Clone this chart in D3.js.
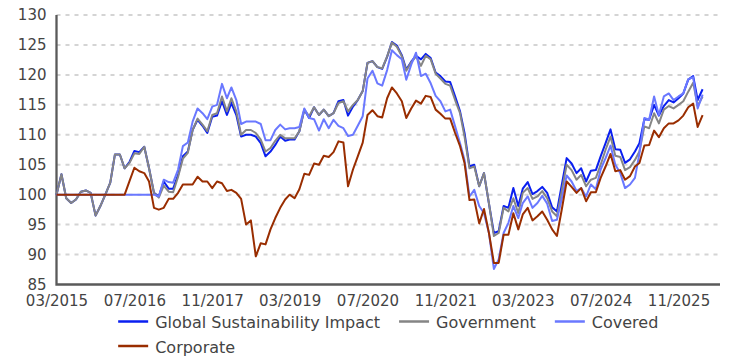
<!DOCTYPE html>
<html>
<head>
<meta charset="utf-8">
<script src="https://cdn.jsdelivr.net/npm/d3@7"></script>
<style>
  html, body { margin: 0; padding: 0; background: #fff; }
  svg { display: block; font-family: "DejaVu Sans", sans-serif; }
</style>
</head>
<body>
<svg id="chart" width="729" height="360"></svg>
<script>
// Monthly index levels, starting 03/2015 (base = 100)
const startMonth = "03/2015";

const globalImpact = [
  100, 103.4, 99.4, 98.6, 99.2, 100.5, 100.7, 100.3, 96.5, 98.1,
  100, 102, 106.7, 106.7, 104.4, 105.5, 107.3, 107.1, 108, 104.4,
  100.3, 99.7, 102.2, 101, 101, 103.3, 106.4, 107.2, 110.8, 112.5,
  111.5, 110.3, 113, 113.2, 115.6, 113.3, 115.3, 113.3, 109.7, 110,
  110, 109.7, 108.6, 106.4, 107.2, 108.3, 109.7, 109, 109.2, 109.2,
  110.6, 114.2, 112.8, 114.6, 113.3, 114.2, 113.1, 113.6, 115.6, 115.8,
  113.2, 114.7, 115.8, 117.3, 122, 122.3, 121.3, 121, 123, 125.5,
  124.9, 123.3, 120.9, 122.2, 123.2, 122.6, 123.5, 122.8, 120.4, 119.8,
  118.9, 118.8, 116.4, 113.9, 110.3, 104.7, 105, 101.4, 103.6, 98.5,
  93.6, 93.9, 98.1, 97.8, 101.1, 98.1, 101, 102.1, 100.1, 100.6,
  101.3, 100.3, 97.9, 97.2, 101.7, 106.1, 105.2, 103.6, 104.4, 102.2,
  104, 104.1, 106.4, 108.6, 110.9, 107.6, 107.5, 105.3, 105.9, 107.2,
  108.6, 112.6, 112.5, 115, 113.2, 114.8, 115.8, 115.4, 116.1, 116.9,
  119.2, 119.8, 115.8, 117.6
];

const government = [
  100, 103.4, 99.4, 98.6, 99.2, 100.5, 100.7, 100.3, 96.5, 98.1,
  100, 102, 106.7, 106.7, 104.4, 105.3, 106.9, 106.8, 108, 104.4,
  100.3, 99.5, 101.5, 100.5, 100.4, 103, 106, 107, 110.8, 112.7,
  111.7, 110.6, 113.3, 113.6, 116.4, 113.9, 116.1, 113.9, 110, 110.8,
  110.8, 110.3, 109.2, 107.2, 107.8, 109, 110, 109.4, 109.4, 109.4,
  110.6, 114.2, 113.1, 114.6, 113.3, 114.2, 113.1, 113.6, 115.3, 115.6,
  113.9, 115, 115.8, 117.3, 122, 122.3, 121.3, 121.1, 123.1, 125.4,
  124.7, 123.1, 120.7, 122.1, 123.1, 121.5, 123.2, 122.6, 120.2, 119.4,
  118.5, 118.2, 115.8, 113.6, 109.7, 104.4, 104.7, 101.4, 103.6, 98.6,
  93.1, 93.6, 97.8, 97.2, 99.4, 96.9, 100.3, 101.1, 99.3, 99.7,
  100.6, 99.4, 97.2, 96.4, 100.7, 105, 104.1, 102.5, 103.3, 101.4,
  102.5, 102.8, 105, 107.5, 109.7, 106.5, 106.3, 104.1, 104.6, 105.8,
  107.2, 111.4, 111.1, 113.6, 111.9, 114.2, 114.8, 114.4, 115, 115.6,
  117.2, 118.7, 114.8, 116.4
];

const covered = [
  100, 100, 100, 100, 100, 100, 100, 100, 100, 100,
  100, 100, 100, 100, 100, 100, 100, 100, 100, 100,
  100, 99.7, 102.5, 102.1, 102, 104.2, 108.1, 108.7, 112.2, 114.4,
  113.6, 112.6, 114.7, 115, 118.5, 116.1, 117.9, 115.8, 111.8, 112.2,
  112.2, 112.2, 111.8, 109.1, 109.1, 110.8, 111.7, 110.9, 111.1, 111.1,
  111.3, 114.4, 112.8, 112.6, 110.7, 112.6, 111.1, 112.5, 111.5, 111.1,
  109.8, 110, 111.5, 113.1, 119.4, 120.7, 118.6, 118.2, 120.8, 124.1,
  123.3, 122.6, 119.2, 121.7, 123.7, 119.8, 120.2, 118.6, 116.5, 115.6,
  113.9, 114.2, 111.4, 108.6, 105.8, 99.7, 100.8, 98.1, 96.9, 93.6,
  87.6, 89.2, 93.6, 95.3, 98.1, 96.1, 98.6, 99.7, 97.8, 98.6,
  99.8, 98.5, 95.6, 95.8, 99.4, 103.2, 102.2, 100.6, 101.1, 99.7,
  101.7, 100.9, 104.2, 106.1, 108.2, 105, 103.6, 101.1, 101.7, 102.8,
  106.9, 112.8, 112.5, 116.4, 113.3, 116.4, 116.9, 115.8, 116.4, 116.9,
  119.3, 119.6, 114.4, 116.7
];

const corporate = [
  100, 100, 100, 100, 100, 100, 100, 100, 100, 100,
  100, 100, 100, 100, 100, 102.3, 104.5, 103.9, 103.6, 102.2,
  97.8, 97.5, 97.8, 99.3, 99.3, 100.3, 101.7, 101.7, 101.7, 103,
  102.2, 102.2, 101.1, 102.2, 101.9, 100.6, 100.8, 100.3, 99.3, 95,
  95.7, 89.7, 91.9, 91.7, 94.2, 96.1, 97.8, 99.2, 100, 99.4,
  100.9, 103.5, 103.3, 105.2, 105, 106.5, 106.3, 107.1, 108.9, 108.7,
  101.4, 104.2, 106.4, 108.7, 113.3, 114.1, 113.1, 112.9, 116.1, 117.9,
  116.9, 115.6, 112.8, 114.4, 115.7, 115.2, 116.5, 116.3, 114.2, 113.5,
  112.7, 112.7, 110.3, 108.1, 105.3, 99.1, 99.2, 95.2, 97.6, 93.6,
  88.6, 88.6, 93.3, 93.3, 96.9, 94.2, 96.7, 97.8, 95.7, 96.4,
  97.2, 95.8, 94.2, 93.1, 97.6, 102.2, 101.3, 100.3, 101.1, 98.9,
  100.4, 100.4, 102.8, 104.7, 106.8, 103.9, 104.1, 102.5, 103.1, 104.7,
  105.3, 108.2, 108.3, 110.7, 109.6, 111.1, 111.9, 111.9, 112.4, 113.2,
  114.6, 115.2, 111.3, 113.3
];

const xTickLabels = ["03/2015", "07/2016", "11/2017", "03/2019", "07/2020",
                     "11/2021", "03/2023", "07/2024", "11/2025"];
const yTickValues = [85, 90, 95, 100, 105, 110, 115, 120, 125, 130];

const seriesNames = ["Global Sustainability Impact", "Government", "Covered", "Corporate"];
const seriesColors = ["#0a1ff0", "#858585", "#6a78ff", "#992d00"];
const seriesValues = [globalImpact, government, covered, corporate];

// ---------------------------------------------------------------------------
const parseMonth = d3.timeParse("%m/%Y");
const start = parseMonth(startMonth);
const dates = d3.range(globalImpact.length).map(i => d3.timeMonth.offset(start, i));

const svg = d3.select("#chart");
const plotLeft = 56.5, plotRight = 720, plotTop = 15, plotBottom = 284.5;

const x = d3.scaleTime()
  .domain([start, new Date(2026, 6, 19)])
  .range([plotLeft, plotRight]);

const y = d3.scaleLinear()
  .domain([85, 130])
  .range([plotBottom, plotTop]);

// horizontal dashed grid
svg.append("g")
  .selectAll("line")
  .data(yTickValues.filter(v => v > 85))
  .join("line")
  .attr("x1", plotLeft)
  .attr("x2", plotRight)
  .attr("y1", d => y(d))
  .attr("y2", d => y(d))
  .attr("stroke", "#d4d4d4")
  .attr("stroke-width", 2)
  .attr("stroke-dasharray", "4,5");

// y axis
const yAxis = svg.append("g")
  .attr("transform", `translate(${plotLeft},0)`)
  .call(d3.axisLeft(y).tickValues(yTickValues).tickSize(0).tickPadding(10).tickFormat(d3.format("d")));
yAxis.select(".domain").remove();
yAxis.selectAll("text")
  .attr("font-size", 15)
  .attr("font-family", "DejaVu Sans, sans-serif")
  .attr("fill", "#444");

// x axis
const xAxis = svg.append("g")
  .attr("transform", `translate(0,${plotBottom})`)
  .call(d3.axisBottom(x)
    .tickValues(xTickLabels.map(parseMonth))
    .tickSize(0)
    .tickPadding(11)
    .tickFormat(d3.timeFormat("%m/%Y")));
xAxis.select(".domain").remove();
xAxis.selectAll("text")
  .attr("font-size", 15)
  .attr("font-family", "DejaVu Sans, sans-serif")
  .attr("fill", "#444");

// axis lines
svg.append("path")
  .attr("d", `M${plotLeft},${plotTop}V${plotBottom}H${plotRight}`)
  .attr("fill", "none")
  .attr("stroke", "#5a5a5a")
  .attr("stroke-width", 2.3);

// series lines
const line = d3.line()
  .x((d, i) => x(dates[i]))
  .y(d => y(d));

svg.append("g")
  .selectAll("path")
  .data(seriesValues)
  .join("path")
  .attr("d", d => line(d))
  .attr("fill", "none")
  .attr("stroke", (d, i) => seriesColors[i])
  .attr("stroke-width", 2)
  .attr("stroke-linejoin", "round");

// legend
const legend = svg.append("g").attr("font-size", 16).attr("fill", "#444");
const items = legend.selectAll("g")
  .data(seriesNames)
  .join("g");
items.append("line")
  .attr("x1", 0).attr("x2", 30)
  .attr("y1", -6.5).attr("y2", -6.5)
  .attr("stroke", (d, i) => seriesColors[i])
  .attr("stroke-width", 2.5);
items.append("text")
  .attr("x", 37)
  .text(d => d);

const widths = [];
items.each(function () {
  widths.push(37 + d3.select(this).select("text").node().getComputedTextLength());
});
const gap = 19;
const rowMax = plotRight - plotLeft;
const rows = [[]];
let rowW = 0;
widths.forEach((w, i) => {
  const add = (rows[rows.length - 1].length ? gap : 0) + w;
  if (rowW + add > rowMax - 60 && rows[rows.length - 1].length) {
    rows.push([i]);
    rowW = w;
  } else {
    rows[rows.length - 1].push(i);
    rowW += add;
  }
});
const firstW = rows[0].reduce((s, i, k) => s + widths[i] + (k ? gap : 0), 0);
const startX = (plotLeft + plotRight) / 2 - firstW / 2;
rows.forEach((row, r) => {
  let cx = startX;
  row.forEach(i => {
    d3.select(items.nodes()[i]).attr("transform", `translate(${cx},${328 + r * 24.5})`);
    cx += widths[i] + gap;
  });
});
</script>
</body>
</html>
